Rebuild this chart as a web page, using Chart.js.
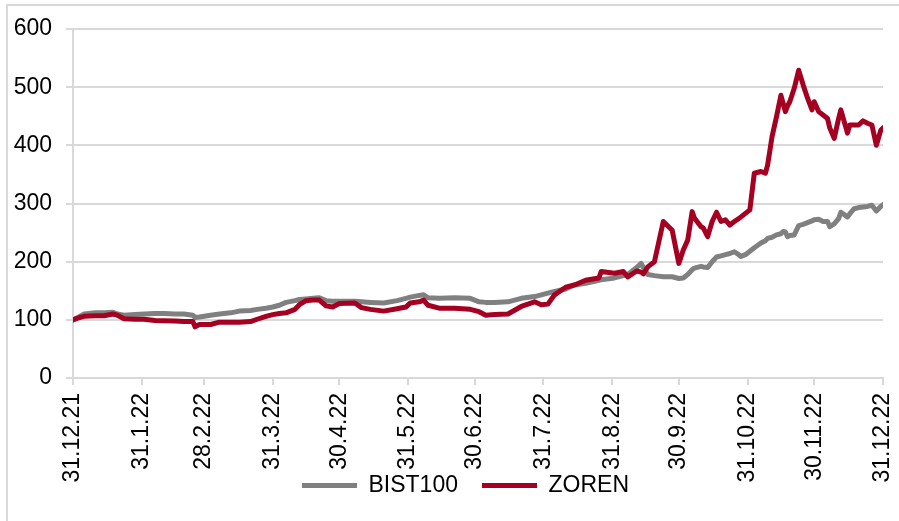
<!DOCTYPE html>
<html>
<head>
<meta charset="utf-8">
<script src="https://cdn.jsdelivr.net/npm/chart.js@4"></script>
<style>
  html, body { margin: 0; padding: 0; background: #ffffff; }
  #wrap { position: relative; width: 899px; height: 521px; }
</style>
</head>
<body>
<div id="wrap"><canvas id="c" width="899" height="521"></canvas></div>
<script>
// Days elapsed since 31.12.21 (x positions of readings)
const days = [0,3,5,10,14,18,20,23,28,32,37,41,46,50,54,55,57,62,66,71,75,80,83,87,90,93,96,100,102,105,108,111,114,117,120,127,130,134,140,146,150,152,156,158,160,165,172,179,183,186,190,196,202,208,211,214,217,222,226,231,237,238,244,248,250,254,256,257,259,262,266,270,273,275,277,279,280,283,284,286,288,290,292,294,296,298,300,301,303,305,307,310,312,313,315,317,319,320,321,322,323,325,327,329,331,333,334,336,338,340,341,343,345,346,349,350,352,354,356,358,360,362,364,365];

const bist100 = [100,106,110,112,112,113,110,108,109,110,111,111,110,110,108,104,105,108,110,112,115,116,118,120,122,125,130,133,135,136,137,138,133,132,132,132,131,130,129,133,137,139,142,143,138,137,138,137,131,130,130,131,137,140,143,146,149,153,160,163,168,169,172,176,178,190,197,190,178,176,174,174,171,172,178,186,189,192,191,190,200,208,210,212,214,217,212,209,212,218,224,232,236,240,242,246,248,252,251,243,245,246,262,264,267,270,272,273,269,269,260,265,274,285,277,282,291,293,294,295,297,287,295,298];

const zoren = [100,104,106,107,107,110,108,102,101,101,99,98.5,98,97,97,88,92,92,96,96,96,97,101,106,109,111,112,118,126,133,134,134,124,122,128,129,121,118,115,119,122,129,131,134,125,120,120,118,114,108,109,110,123,131,126,127,143,156,160,168,172,183,180,183,174,184,182,179,191,200,269,254,197,220,237,286,275,260,258,243,269,285,269,272,263,269,274,277,283,289,352,355,352,366,415,449,486,472,458,468,475,498,529,504,481,461,475,458,452,446,430,412,446,461,421,435,435,435,442,438,435,400,426,430];

const tickDays = [0,31,59,90,120,151,181,212,243,273,304,334,365];
const tickLabels = ['31.12.21','31.1.22','28.2.22','31.3.22','30.4.22','31.5.22','30.6.22','31.7.22','31.8.22','30.9.22','31.10.22','30.11.22','31.12.22'];

const seriesNames = ['BIST100','ZOREN'];

const FONT = "'Liberation Sans', Arial, sans-serif";
const GRID = '#d9d9d9';

const framePlugin = {
  id: 'frame',
  afterLayout(chart) {
    // let tick labels extend beyond the compact axis boxes without being clipped
    chart.scales.y.left = 0;
    chart.scales.x.bottom = chart.height;
  },
  beforeDraw(chart) {
    const ctx = chart.ctx;
    ctx.save();
    ctx.strokeStyle = GRID;
    ctx.lineWidth = 2;
    ctx.beginPath();
    ctx.moveTo(7, 521);
    ctx.lineTo(7, 5);
    ctx.lineTo(899, 5);
    ctx.stroke();
    ctx.restore();
  }
};

new Chart(document.getElementById('c'), {
  type: 'line',
  data: {
    datasets: [
      {
        label: seriesNames[0],
        data: days.map((d, i) => ({x: d, y: bist100[i]})),
        borderColor: '#808080',
        backgroundColor: '#808080',
        borderWidth: 5,
        pointRadius: 0,
        borderJoinStyle: 'round',
        borderCapStyle: 'round',
        tension: 0,
        order: 1
      },
      {
        label: seriesNames[1],
        data: days.map((d, i) => ({x: d, y: zoren[i]})),
        borderColor: '#A50021',
        backgroundColor: '#A50021',
        borderWidth: 5,
        pointRadius: 0,
        borderJoinStyle: 'round',
        borderCapStyle: 'round',
        tension: 0,
        order: 0
      }
    ]
  },
  options: {
    responsive: false,
    animation: false,
    devicePixelRatio: 1,
    layout: { padding: { left: 48, right: 16, top: 29, bottom: 14 } },
    plugins: {
      tooltip: { enabled: false },
      legend: {
        position: 'bottom',
        labels: {
          usePointStyle: true,
          pointStyle: 'line',
          pointStyleWidth: 55,
          padding: 24,
          color: '#000000',
          font: { family: FONT, size: 23 },
          sort: (a, b) => a.datasetIndex - b.datasetIndex
        }
      }
    },
    scales: {
      x: {
        type: 'linear',
        min: 0,
        max: 365,
        afterBuildTicks: (scale) => { scale.ticks = tickDays.map(v => ({ value: v })); },
        afterFit: (scale) => { scale.height = 72; scale.paddingRight = 0; scale.paddingLeft = 0; },
        ticks: {
          autoSkip: false,
          minRotation: 90,
          maxRotation: 90,
          padding: 8,
          color: '#000000',
          font: { family: FONT, size: 23 },
          callback: (v) => { const i = tickDays.indexOf(v); return i >= 0 ? tickLabels[i] : ''; }
        },
        grid: {
          drawOnChartArea: false,
          drawTicks: true,
          tickLength: 7,
          color: GRID,
          lineWidth: 2
        },
        border: { display: true, color: GRID, width: 2 }
      },
      y: {
        min: 0,
        max: 600,
        afterFit: (scale) => { scale.width = 25; scale.paddingTop = 0; scale.paddingBottom = 0; },
        ticks: {
          stepSize: 100,
          padding: 14,
          color: '#000000',
          font: { family: FONT, size: 23 }
        },
        grid: {
          drawOnChartArea: true,
          drawTicks: true,
          tickLength: 7,
          color: GRID,
          lineWidth: 2
        },
        border: { display: true, color: GRID, width: 2 }
      }
    }
  },
  plugins: [framePlugin]
});
</script>
</body>
</html>
